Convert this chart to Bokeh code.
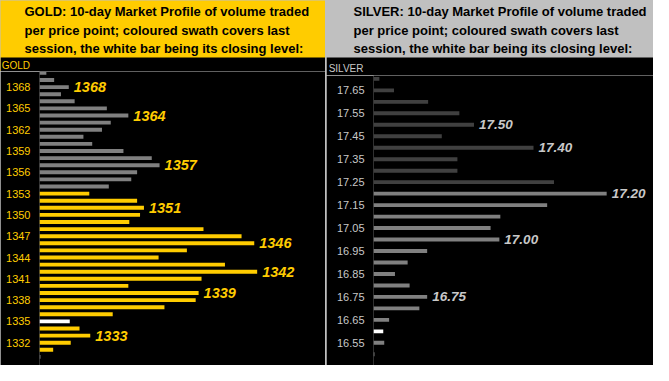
from bokeh.plotting import figure
from bokeh.models import ColumnDataSource, Range1d, FixedTicker, PrintfTickFormatter, Label, BoxAnnotation
from bokeh.layouts import row, column
from bokeh.core.properties import value
from bokeh.embed import file_html
from bokeh.resources import INLINE

FONT = "Liberation Sans"

# ---------------- data ----------------
gold_prices = [1370, 1369, 1368, 1367, 1366, 1365, 1364, 1363, 1362, 1361,
               1360, 1359, 1358, 1357, 1356, 1355, 1354, 1353, 1352, 1351,
               1350, 1349, 1348, 1347, 1346, 1345, 1344, 1343, 1342, 1341,
               1340, 1339, 1338, 1337, 1336, 1335, 1334, 1333, 1332, 1331, 1330]
gold_volume = [7, 15, 30, 22, 36, 69, 91, 73, 64, 45,
               54, 86, 115, 123, 100, 94, 71, 51, 100, 107,
               103, 92, 168, 207, 220, 151, 122, 190, 223, 166,
               91, 163, 160, 128, 75, 31, 41, 52, 32, 14, 1]
gold_ticks = [1368, 1365, 1362, 1359, 1356, 1353, 1350, 1347, 1344, 1341, 1338, 1335, 1332]
gold_peaks = [1368, 1364, 1357, 1351, 1346, 1342, 1339, 1333]
gold_session = (1331, 1353)
gold_close = 1335

silver_prices = [17.70, 17.65, 17.60, 17.55, 17.50, 17.45, 17.40, 17.35, 17.30, 17.25,
                 17.20, 17.15, 17.10, 17.05, 17.00, 16.95, 16.90, 16.85, 16.80, 16.75,
                 16.70, 16.65, 16.60, 16.55, 16.50]
silver_volume = [6, 21, 56, 88, 103, 70, 164, 86, 86, 185,
                 239, 178, 130, 120, 129, 55, 35, 22, 37, 55,
                 47, 16, 10, 11, 1]
silver_ticks = [17.65, 17.55, 17.45, 17.35, 17.25, 17.15, 17.05, 16.95, 16.85, 16.75, 16.65, 16.55]
silver_peaks = [17.50, 17.40, 17.20, 17.00, 16.75]
silver_session = (16.50, 17.20)
silver_close = 16.60

gold_title = ["GOLD:  10-day Market Profile of volume traded",
              "per price point; coloured swath covers last",
              "session, the white bar being its closing level:"]
silver_title = ["SILVER:  10-day Market Profile of volume traded",
                "per price point; coloured swath covers last",
                "session, the white bar being its closing level:"]

TOTAL_H = 365
BAND_TOP = 57


def bar_colors(prices, session, close, in_col, out_col):
    cols = []
    for pr in prices:
        if abs(pr - close) < 1e-6:
            cols.append("#FFFFFF")
        elif session[0] - 1e-6 <= pr <= session[1] + 1e-6:
            cols.append(in_col)
        else:
            cols.append(out_col)
    return cols


def title_fig(lines, width, height, bg, x0, name, name_x, name_from_top, name_color):
    t = figure(width=width, height=height, x_range=Range1d(0, width), y_range=Range1d(0, height),
               toolbar_location=None, output_backend="svg", x_axis_location=None,
               y_axis_location=None, min_border=0, min_border_left=0, min_border_right=0,
               min_border_top=0, min_border_bottom=0, background_fill_color=bg,
               border_fill_color=bg, outline_line_color=None, frame_align=False)
    t.grid.visible = False
    t.add_layout(BoxAnnotation(bottom=0, top=height - BAND_TOP, fill_color="black",
                               fill_alpha=1.0, line_color=None))
    tops = [10.5, 29.7, 47.9]
    for line, ft in zip(lines, tops):
        t.add_layout(Label(x=x0, y=height - ft, text=line, text_font=FONT, text_font_size="13px",
                           text_font_style="bold", text_color="black", text_baseline="middle"))
    t.add_layout(Label(x=name_x, y=height - name_from_top, text=name, text_font=FONT,
                       text_font_size="10px", text_color=name_color, text_align="right",
                       text_baseline="middle"))
    return t


def body_fig(width, height, border_left, xmax, prices, volume, ticks, fmt, peaks, peak_fmt,
             colors, step, pad_top, pad_bot, bar_h, axis_color, label_color, label_size):
    lo = min(prices) - pad_bot * step
    hi = max(prices) + pad_top * step
    p = figure(width=width, height=height, x_range=Range1d(0, xmax), y_range=Range1d(lo, hi),
               toolbar_location=None, output_backend="svg", x_axis_location=None,
               min_border_left=border_left, min_border_right=0, min_border_top=0,
               min_border_bottom=0, background_fill_color="black",
               border_fill_color="black", outline_line_color=None, frame_align=False)
    p.grid.visible = False
    src = ColumnDataSource(dict(price=prices, volume=volume, color=colors))
    p.hbar(y="price", left=0, right="volume", height=bar_h * step, fill_color="color",
           line_color=None, source=src)
    vol_of = dict(zip([round(v, 4) for v in prices], volume))
    psrc = ColumnDataSource(dict(price=peaks, volume=[vol_of[round(v, 4)] for v in peaks],
                                 label=[peak_fmt % v for v in peaks]))
    p.text(x="volume", y="price", text="label", source=psrc, x_offset=5,
           text_align="left", text_baseline="middle", text_font=value(FONT),
           text_font_style="bold italic", text_font_size=label_size, text_color=label_color)
    ax = p.yaxis[0]
    ax.ticker = FixedTicker(ticks=ticks)
    ax.formatter = PrintfTickFormatter(format=fmt)
    ax.axis_line_color = None
    ax.major_tick_line_color = None
    ax.minor_tick_line_color = None
    ax.major_tick_out = 0
    ax.major_tick_in = 0
    ax.major_label_standoff = 9
    ax.major_label_text_color = axis_color
    ax.major_label_text_font = FONT
    ax.major_label_text_font_size = "11px"
    return p


gold_cols = bar_colors(gold_prices, gold_session, gold_close, "#FFCC00", "#808080")
silver_cols = bar_colors(silver_prices, silver_session, silver_close, "#808080", "#404040")

G_TH = 71
S_TH = 75

gt = title_fig(gold_title, 325, G_TH, "#FFCC00", 24, "GOLD", 29.5, 64.5, "#FFCC00")
gb = body_fig(325, TOTAL_H - G_TH, 39, 293, gold_prices, gold_volume, gold_ticks, "%d",
              gold_peaks, "%d", gold_cols, 1.0, 0.2, 1.21, 0.55, "#FFCC00", "#FFCC00", "14.5px")

st = title_fig(silver_title, 327, S_TH, "#C0C0C0", 27, "SILVER", 37, 67.6, "#C8C8C8")
sb = body_fig(327, TOTAL_H - S_TH, 47, 287, silver_prices, silver_volume, silver_ticks, "%.2f",
              silver_peaks, "%.2f", silver_cols, 0.05, 0.296, 0.978, 0.34, "#C8C8C8",
              "#C8C8C8", "13.5px")

layout = row(column(gt, gb), column(st, sb), spacing=1,
             styles={"background-color": "#C0C0C0"})

open("out.html", "w").write(file_html(layout, INLINE))
